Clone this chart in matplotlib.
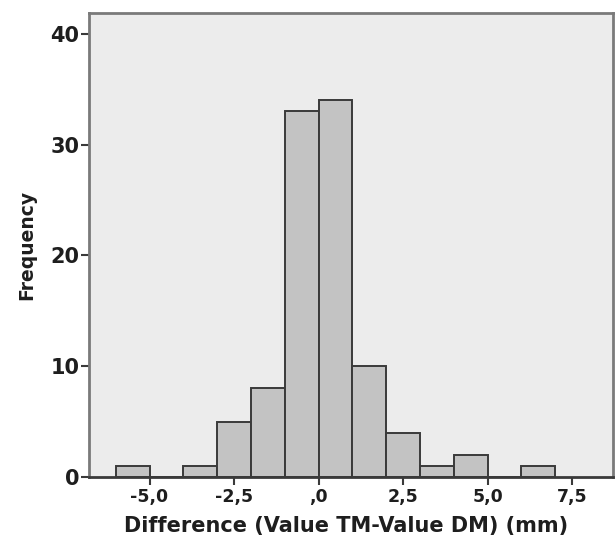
import matplotlib
matplotlib.use('Agg')
import matplotlib.pyplot as plt
from matplotlib.ticker import FuncFormatter

plt.rcParams['font.family'] = ['DejaVu Sans']

bin_edges = [-6, -5, -4, -3, -2, -1, 0, 1, 2, 3, 4, 5, 6, 7]
counts = [1, 0, 1, 5, 8, 33, 34, 10, 4, 1, 2, 0, 1]
x_ticks = [-5.0, -2.5, 0.0, 2.5, 5.0, 7.5]
y_ticks = [0, 10, 20, 30, 40]


def comma_fmt(v, pos):
    # SPSS style: decimal comma, no leading zero
    s = ('%.1f' % v).replace('.', ',')
    if s in ('0,0', '-0,0'):
        s = ',0'
    return s


fig = plt.figure(figsize=(6.16, 5.38), dpi=100)
ax = fig.add_axes([0.1445, 0.1134, 0.8505, 0.8626])
ax.set_facecolor('#ececec')

widths = [bin_edges[i + 1] - bin_edges[i] for i in range(len(counts))]
ax.bar(bin_edges[:-1], counts, width=widths, align='edge',
       color='#c3c3c3', edgecolor='#3a3a3a', linewidth=1.4, zorder=2)

ax.set_xlim(-6.79, 8.71)
ax.set_ylim(0, 41.9)
ax.set_xticks(x_ticks)
ax.set_yticks(y_ticks)
ax.xaxis.set_major_formatter(FuncFormatter(comma_fmt))

for sp in ax.spines.values():
    sp.set_color('#7a7a7a')
    sp.set_linewidth(2)
ax.spines['bottom'].set_color('#3a3a3a')

ax.tick_params(axis='x', direction='out', length=6, width=1.5, color='#3a3a3a',
               labelsize=12.5, pad=2)
ax.tick_params(axis='y', direction='out', length=6, width=1.5, color='#3a3a3a',
               labelsize=15, pad=1)
for lab in ax.get_xticklabels() + ax.get_yticklabels():
    lab.set_fontweight('bold')
    lab.set_color('#1e1e1e')

ax.set_xlabel('Difference (Value TM-Value DM) (mm)', fontsize=15,
              fontweight='bold', color='#1e1e1e')
ax.xaxis.set_label_coords(0.49, -0.085)
ax.set_ylabel('Frequency', fontsize=13.5, fontweight='bold', labelpad=10,
              color='#1e1e1e')

fig.savefig('out.png', dpi=100)
